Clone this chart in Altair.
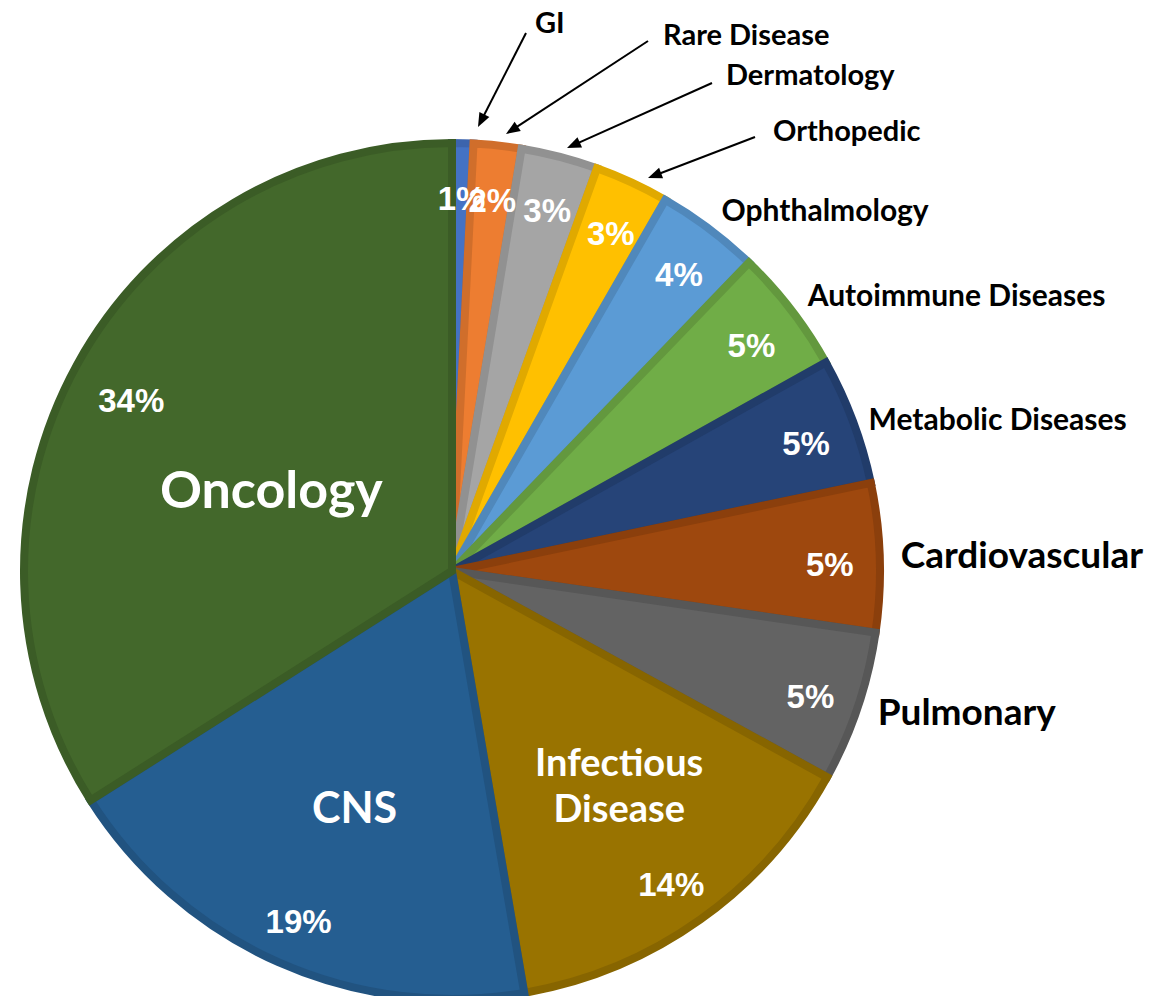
import math
import altair as alt
import pandas as pd

# ---------------- data ----------------
categories = ["GI", "Rare Disease", "Dermatology", "Orthopedic", "Ophthalmology",
              "Autoimmune Diseases", "Metabolic Diseases", "Cardiovascular",
              "Pulmonary", "Infectious Disease", "CNS", "Oncology"]
shares = [0.8, 1.8, 2.9, 2.8, 3.9, 4.7, 4.8, 5.6, 5.7, 14.3, 18.7, 34.0]
pct_labels = ["1%", "2%", "3%", "3%", "4%", "5%", "5%", "5%", "5%", "14%", "19%", "34%"]

# ---------------- styles ----------------
fill_colors = ["#4472C4", "#ED7D31", "#A5A5A5", "#FFC000", "#5B9BD5", "#70AD47",
               "#264478", "#9E480E", "#636363", "#997300", "#255E91", "#43682B"]
edge_colors = ["#3c64ad", "#d06e2b", "#919191", "#e0a900", "#5088bb", "#63983e",
               "#213c6a", "#8b3f0c", "#575757", "#876500", "#215380", "#3b5c26"]

W, H = 1136, 988
CX, CY, R = 444, 563, 432
NAME_FONT = "Lato"
PCT_FONT = "Liberation Sans"

# callout layout (label anchor, arrow tail, arrow tip) in pixels
callout_names = ["GI", "Rare Disease", "Dermatology", "Orthopedic"]
callout_label_xy = [(527, 16), (655, 28), (718, 68), (765, 124)]
callout_tail_xy = [(518, 25), (640, 33), (704, 75), (747, 129)]
callout_tip_xy = [(470, 119), (498, 126), (559, 140), (640, 170)]
HEAD_LEN = 14

df = pd.DataFrame({"idx": list(range(len(categories))), "category": categories,
                   "share": shares, "pct": pct_labels})
total = sum(shares)
theta_scale = alt.Scale(domain=[0, total])

base = alt.Chart(df).transform_stack(
    stack="share", as_=["s0", "s1"], groupby=[],
    sort=[alt.SortField("idx", order="ascending")]
).transform_calculate(mid="(datum.s0 + datum.s1) / 2")

arcs = base.mark_arc(outerRadius=R - 4, strokeWidth=8).encode(
    theta=alt.Theta("s0:Q", scale=theta_scale, stack=None),
    theta2="s1:Q",
    color=alt.Color("category:N", scale=alt.Scale(domain=categories, range=fill_colors), legend=None),
    stroke=alt.Stroke("category:N", scale=alt.Scale(domain=categories, range=edge_colors), legend=None),
    x=alt.value(CX), y=alt.value(CY),
)


def polar_text(names, field, radius, size, font, color, align="center", dx=0, dy=0, exclude=False, **kw):
    ch = base
    if names is not None:
        pred = alt.FieldOneOfPredicate(field="category", oneOf=names)
        ch = ch.transform_filter(~pred if exclude else pred)
    return ch.mark_text(radius=radius, fontSize=size, font=font, fontWeight="bold",
                        color=color, align=align, baseline="middle", dx=dx, dy=dy, **kw).encode(
        theta=alt.Theta("mid:Q", scale=theta_scale, stack=None),
        text=alt.Text(f"{field}:N"),
        x=alt.value(CX), y=alt.value(CY),
    )


pct_text = polar_text(["Oncology"], "pct", 378, 33, PCT_FONT, "white", dy=7, exclude=True)
pct_onc = polar_text(["Oncology"], "pct", 366, 33, PCT_FONT, "white", dy=7)
onc_text = polar_text(["Oncology"], "category", 197, 52, NAME_FONT, "white", dx=-8, dy=16)
cns_text = polar_text(["CNS"], "category", 255, 43, NAME_FONT, "white", dx=6, dy=6)
inf_text = polar_text(["Infectious Disease"], "category", 271, 38, NAME_FONT, "white",
                      dx=10, dy=-27, lineBreak=" ", lineHeight=46)
big_out = polar_text(["Cardiovascular", "Pulmonary"], "category", 449, 37, NAME_FONT, "black", align="left")
small_out = polar_text(["Autoimmune Diseases", "Ophthalmology"], "category",
                       449, 30, NAME_FONT, "black", align="left")
metab_out = polar_text(["Metabolic Diseases"], "category", 449, 30, NAME_FONT, "black",
                       align="left", dx=-4, dy=7)

# callouts with arrows
rows = []
for name, (lx, ly), (tx, ty), (px, py) in zip(callout_names, callout_label_xy, callout_tail_xy, callout_tip_xy):
    ddx, ddy = px - tx, py - ty
    L = math.hypot(ddx, ddy)
    ux, uy = ddx / L, ddy / L
    hx, hy = px - ux * HEAD_LEN / 2, py - uy * HEAD_LEN / 2
    ang = math.degrees(math.atan2(ddx, -ddy)) % 360
    rows.append({"name": name, "lx": lx, "ly": ly, "tx": tx, "ty": ty, "hx": hx, "hy": hy, "ang": ang})
cdf = pd.DataFrame(rows)

callout_labels = alt.Chart(cdf).mark_text(fontSize=29, font=NAME_FONT, fontWeight="bold",
                                          color="black", align="left", baseline="middle").encode(
    x=alt.X("lx:Q", scale=None), y=alt.Y("ly:Q", scale=None), text="name:N")
callout_lines = alt.Chart(cdf).mark_rule(strokeWidth=2, color="black").encode(
    x=alt.X("tx:Q", scale=None), y=alt.Y("ty:Q", scale=None), x2="hx:Q", y2="hy:Q")
callout_heads = alt.Chart(cdf).mark_point(shape="M0,-1L0.8,1L-0.8,1Z", size=HEAD_LEN ** 2,
                                          filled=True, color="black", opacity=1, strokeWidth=0).encode(
    x=alt.X("hx:Q", scale=None), y=alt.Y("hy:Q", scale=None), angle=alt.Angle("ang:Q", scale=None))

chart = alt.layer(
    arcs, pct_text, pct_onc, onc_text, cns_text, inf_text, big_out, small_out, metab_out,
    callout_lines, callout_heads, callout_labels
).properties(
    width=W, height=H, autosize=alt.AutoSizeParams(type="none"), padding=0
).configure_view(stroke=None, strokeWidth=0)

chart.save("out.html", embed_options={"renderer": "svg", "actions": False})
